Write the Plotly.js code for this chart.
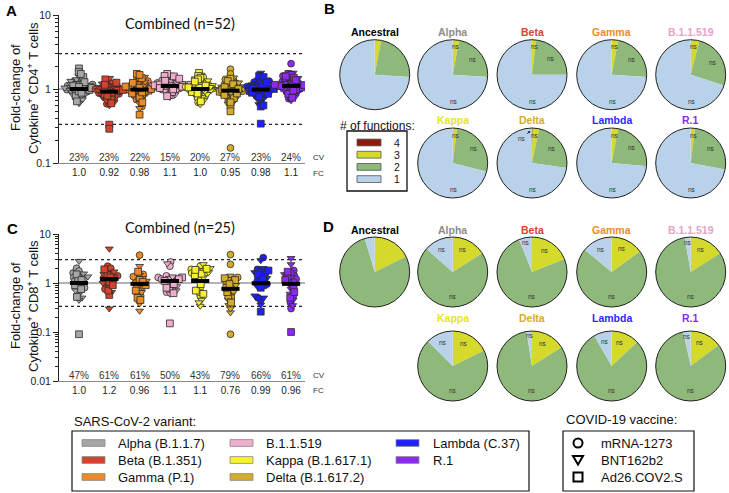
<!DOCTYPE html>
<html><head><meta charset="utf-8">
<script src="https://cdn.plot.ly/plotly-3.0.1.min.js"></script>
<style>html,body{margin:0;padding:0;background:#fff}#chart{width:729px;height:493px}</style>
</head><body><div id="chart"></div>
<script>
// ---------------- DATA ----------------
const variants = ['Alpha','Beta','Gamma','B.1.1.519','Kappa','Delta','Lambda','R.1'];
const variantLegend = ['Alpha (B.1.1.7)','Beta (B.1.351)','Gamma (P.1)','B.1.1.519','Kappa (B.1.617.1)','Delta (B.1.617.2)','Lambda (C.37)','R.1'];
const variantColors = ['#a6a6a6','#d6422b','#ec8a25','#efadcd','#f7f22e','#d6ab28','#1f1fff','#8d2af0'];
const vaccines = ['mRNA-1273','BNT162b2','Ad26.COV2.S'];
const vaccineCodes = ['M','B','A'];

// donor vaccine codes (same donors across variants)
const cd4Vaccine = 'MMMMMMMMMMMMMMMMMMMBBBBBBBBBBBBBBBBBBBBAAAAAAAAAAAAA'.split('');
const cd8Vaccine = 'MMMMMMMMMBBBBBBBBBAAAAAAA'.split('');

// CD4 fold-change per donor (n=52)
const cd4Alpha = [1.05,0.92,1.18,0.85,1.30,0.98,1.10,0.75,1.22,1.02,0.88,1.40,0.95,1.08,0.70,1.15,0.99,1.25,0.82,
  1.12,0.96,1.35,0.78,1.04,1.20,0.90,1.00,1.50,0.86,1.06,0.72,1.16,0.94,1.28,0.64,1.09,1.01,0.83,1.13,
  1.90,1.70,1.45,0.97,1.03,0.80,1.60,0.68,1.11,0.93,1.24,0.89,1.07];
const cd4Beta = [0.95,0.82,1.05,0.76,1.20,0.88,1.00,0.68,1.12,0.92,0.80,1.30,0.86,0.98,0.63,1.04,0.90,1.15,0.74,
  1.02,0.87,1.25,0.70,0.94,1.10,0.82,0.91,1.40,0.78,0.96,0.66,1.06,0.85,1.18,0.60,0.99,0.93,0.75,1.03,
  0.33,0.29,1.35,0.89,0.95,0.72,1.22,0.64,1.01,0.84,1.14,0.81,0.97];
const cd4Gamma = [1.02,0.90,1.15,0.82,1.28,0.95,1.08,0.72,1.20,0.99,0.86,1.38,0.93,1.05,0.58,1.12,0.97,1.22,0.79,
  1.10,0.94,1.32,0.55,1.01,1.18,0.88,0.98,1.45,0.84,1.03,0.70,1.14,0.91,1.25,0.64,1.06,0.99,0.81,1.09,
  1.60,0.45,1.40,0.95,1.00,0.77,1.55,0.66,1.08,0.90,1.21,0.87,1.04];
const cd4B11519 = [1.12,1.02,1.24,0.95,1.35,1.08,1.18,0.86,1.30,1.10,0.98,1.45,1.05,1.16,0.82,1.21,1.09,1.32,0.92,
  1.19,1.06,1.40,0.89,1.13,1.27,1.00,1.11,1.55,0.97,1.14,0.84,1.23,1.04,1.36,0.78,1.17,1.10,0.94,1.20,
  1.60,1.48,1.38,1.07,1.12,0.91,1.50,0.80,1.15,1.03,1.29,0.99,1.14];
const cd4Kappa = [1.05,0.92,1.20,0.84,1.32,0.97,1.10,0.74,1.24,1.01,0.88,1.45,0.94,1.07,0.66,1.15,0.99,1.28,0.80,
  1.12,0.95,1.38,0.77,1.03,1.22,0.90,1.00,1.55,0.85,1.06,0.70,1.17,0.93,1.30,0.62,1.09,1.02,0.82,1.13,
  1.65,1.50,1.42,0.96,1.04,0.79,1.35,0.68,1.11,0.91,1.26,0.87,1.05];
const cd4Delta = [1.85,0.88,1.12,0.80,1.25,0.93,1.05,0.70,1.18,0.96,0.84,1.35,0.90,1.02,0.16,1.60,0.94,1.20,0.77,
  1.08,0.91,1.30,0.72,0.99,1.15,0.86,0.95,1.42,0.81,1.01,0.67,1.10,0.89,1.22,0.63,1.04,0.97,0.78,1.07,
  0.60,0.50,1.38,0.92,0.98,0.75,1.28,0.66,1.06,0.87,1.16,0.83,1.00];
const cd4Lambda = [1.03,0.90,1.16,0.83,1.28,0.95,1.08,0.73,1.21,0.99,0.86,1.40,0.93,1.05,0.66,1.13,0.97,1.24,0.80,
  1.10,0.94,1.34,0.76,1.02,1.19,0.88,0.98,1.65,0.84,1.04,0.70,1.15,0.91,1.27,0.62,1.07,1.00,0.81,1.11,
  0.34,0.58,1.50,0.94,1.00,0.78,1.45,0.60,1.09,0.89,1.23,0.86,1.03];
const cd4R1 = [2.20,1.00,1.25,0.92,1.38,1.06,1.18,0.82,1.30,1.09,0.96,1.50,1.03,1.15,0.74,1.22,1.08,1.35,0.88,
  1.19,1.04,1.45,0.85,1.12,1.28,0.98,1.10,1.65,0.93,1.14,0.78,1.24,1.01,1.40,0.70,1.17,1.11,0.90,1.20,
  1.60,1.55,1.42,1.05,1.10,0.86,1.48,0.76,1.14,0.99,1.32,0.95,1.13];

// CD8 fold-change per donor (n=25)
const cd8Alpha = [1.60,1.30,0.80,2.00,1.10,0.65,1.45,0.95,1.75, 2.80,0.70,1.20,0.50,1.55,0.85,1.35,0.45,1.05, 0.09,0.52,1.25,0.90,1.50,0.75,1.15];
const cd8Beta = [1.80,1.40,0.95,2.20,1.25,0.75,1.60,1.10,2.00, 5.00,0.85,1.50,0.30,1.70,1.00,1.35,0.65,1.20, 0.57,0.70,1.45,1.05,1.90,0.90,1.30];
const cd8Gamma = [3.70,1.20,0.75,1.50,1.00,0.55,1.35,0.85,0.60, 2.20,0.65,1.10,0.27,1.45,0.80,0.95,0.38,1.25, 0.50,0.45,1.15,0.90,1.70,0.70,1.05];
const cd8B11519 = [2.70,2.20,0.80,1.30,1.10,0.65,1.20,0.90,1.40, 2.50,0.75,1.25,0.60,1.15,0.85,1.35,0.70,1.05, 0.15,0.62,1.30,0.95,1.10,0.80,1.20];
const cd8Kappa = [2.20,1.90,1.60,0.80,1.40,0.55,1.75,1.20,0.65, 2.40,1.50,2.00,0.34,1.80,0.45,1.30,0.40,1.65, 1.55,0.70,1.95,0.95,1.45,0.60,1.85];
const cd8Delta = [3.80,2.40,0.60,1.30,0.85,0.09,1.10,0.50,0.70, 1.40,0.45,0.90,0.25,1.20,0.35,0.75,0.30,1.00, 0.55,0.65,1.25,0.80,1.15,0.40,0.95];
const cd8Lambda = [3.30,1.90,0.45,1.60,0.95,1.30,0.50,1.75,1.10, 2.90,0.36,1.45,0.50,2.00,0.85,1.25,0.55,1.65, 0.26,0.90,1.50,1.05,1.80,0.80,1.20];
const cd8R1 = [1.80,1.40,0.30,1.20,0.40,0.95,1.60,0.55,1.05, 3.20,0.60,2.40,0.45,1.30,0.75,1.50,0.35,1.10, 0.10,0.50,1.35,0.85,1.70,0.65,1.15];

// summary rows
const cd4FC = [1.0,0.92,0.98,1.1,1.0,0.95,0.98,1.1];
const cd4FCLabels = ['1.0','0.92','0.98','1.1','1.0','0.95','0.98','1.1'];
const cd4CV = ['23%','23%','22%','15%','20%','27%','23%','24%'];
const cd8FC = [1.0,1.2,0.96,1.1,1.1,0.76,0.99,0.96];
const cd8FCLabels = ['1.0','1.2','0.96','1.1','1.1','0.76','0.99','0.96'];
const cd8CV = ['47%','61%','61%','50%','43%','79%','66%','61%'];
const thresholdHigh = 3, thresholdLow = 0.333, baseline = 1;

// log-axis ticks
const cd4TickVals = [0.1, 1, 10];
const cd4TickText = ['0.1', '1', '10'];
const cd4MinorVals = [0.2,0.3,0.4,0.5,0.6,0.7,0.8,0.9,2,3,4,5,6,7,8,9];
const cd8TickVals = [0.01, 0.1, 1, 10];
const cd8TickText = ['0.01', '0.1', '1', '10'];
const cd8MinorVals = [0.02,0.03,0.04,0.05,0.06,0.07,0.08,0.09,0.2,0.3,0.4,0.5,0.6,0.7,0.8,0.9,2,3,4,5,6,7,8,9];

// pies: % of cells with # of functions
const pieNames = ['Ancestral','Alpha','Beta','Gamma','B.1.1.519','Kappa','Delta','Lambda','R.1'];
const pieTitleColors = ['#000000','#8c8c8c','#d8432c','#ee8c28','#e6a3c8','#e4e42a','#d6ab28','#2a2aff','#8d2af0'];
const fnLabels = ['4','3','2','1'];
const fnColors = ['#8b1a10','#d4d92c','#8fb97a','#b9d2ea'];
const cd4Fn4 = [0,0,0,0,0,0,0.3,0,0];
const cd4Fn3 = [3,3,2,3,4,2,3,3,2];
const cd4Fn2 = [23,23,23,23,26,27,24,23.5,26];
const cd4Fn1 = [74,74,75,74,70,71,72.7,73.5,72];
const cd8Fn4 = [0,0,0,0,0,0,0,0,0];
const cd8Fn3 = [17.7,16,19,15,16,17.7,16,13,14.7];
const cd8Fn2 = [77.7,70.5,75,71,81.3,69.8,81.5,78.7,81.9];
const cd8Fn1 = [4.6,13.5,6,14,2.7,12.5,2.5,8.3,3.4];

// ---------------- LAYOUT HELPERS ----------------
const W = 729, H = 493;
const px = x => x / W, py = y => 1 - y / H;
const FONT = 'Liberation Sans, Arial, sans-serif';
const catPx = 30.3; // px per category

function swarm(vals, pxPerDecade, D) {
  const order = vals.map((v, i) => i).sort((a, b) => vals[a] - vals[b]);
  const placed = [], off = new Array(vals.length);
  order.forEach((i, k) => {
    const y = Math.log10(vals[i]) * pxPerDecade;
    const near = placed.filter(p => Math.abs(p.y - y) < D);
    const cands = [0];
    near.forEach(p => { const dx = Math.sqrt(D * D - (p.y - y) ** 2); cands.push(p.x + dx, p.x - dx); });
    cands.sort((a, b) => Math.abs(a) - Math.abs(b) || (k % 2 ? a - b : b - a));
    const x = cands.find(c => near.every(p => (p.x - c) ** 2 + (p.y - y) ** 2 >= D * D - 1e-6));
    placed.push({ x, y }); off[i] = x;
  });
  return off;
}

const traces = [];
const annotations = [];
const shapes = [];
function ann(o) {
  annotations.push(Object.assign({ xref: 'paper', yref: 'paper', xanchor: 'center', yanchor: 'middle', showarrow: false }, o));
}

function scatterPanel(sets, donorVac, fc, xa, ya, pxPerDecade, D) {
  const xr = [-0.66, 7.46];
  traces.push({ x: xr, y: [baseline, baseline], xaxis: xa, yaxis: ya, mode: 'lines', line: { color: '#9a9a9a', width: 1.6 }, hoverinfo: 'skip' });
  [thresholdHigh, thresholdLow].forEach(t => traces.push({ x: xr, y: [t, t], xaxis: xa, yaxis: ya, mode: 'lines', line: { color: '#222', width: 1.2, dash: 'dot' }, hoverinfo: 'skip' }));
  sets.forEach((vals, i) => {
    const off = swarm(vals, pxPerDecade, D);
    vaccineCodes.forEach((code, s) => {
      const xs = [], ys = [];
      vals.forEach((v, j) => { if (donorVac[j] === code) { xs.push(i + off[j] / catPx); ys.push(v); } });
      traces.push({ x: xs, y: ys, xaxis: xa, yaxis: ya, mode: 'markers', hoverinfo: 'y',
        marker: { symbol: ['circle', 'triangle-down', 'square'][s], size: 6.8, color: variantColors[i], line: { color: '#2a2a2a', width: 0.8 } } });
    });
  });
  fc.forEach((f, i) => traces.push({ x: [i - 0.3, i + 0.3], y: [f, f], xaxis: xa, yaxis: ya, mode: 'lines', line: { color: '#000', width: 4 }, hoverinfo: 'skip' }));
}

scatterPanel([cd4Alpha, cd4Beta, cd4Gamma, cd4B11519, cd4Kappa, cd4Delta, cd4Lambda, cd4R1], cd4Vaccine, cd4FC, 'x', 'y', 74, 2.9);
scatterPanel([cd8Alpha, cd8Beta, cd8Gamma, cd8B11519, cd8Kappa, cd8Delta, cd8Lambda, cd8R1], cd8Vaccine, cd8FC, 'x2', 'y2', 49, 3.7);

// CV rows + labels
cd4CV.forEach((t, i) => ann({ text: t, x: i, xref: 'x', y: py(157), font: { size: 10, color: '#333' } }));
cd8CV.forEach((t, i) => ann({ text: t, x: i, xref: 'x2', y: py(375), font: { size: 10, color: '#333' } }));
[[157, 'CV'], [173, 'FC'], [375, 'CV'], [390, 'FC']].forEach(([y, t]) => ann({ text: t, x: px(311), y: py(y), xanchor: 'left', font: { size: 8, color: '#333' } }));

// panel titles and letters
ann({ text: 'Combined (n=52)', x: px(180), y: py(23), font: { family: 'Lato, sans-serif', size: 14.5, color: '#111' } });
ann({ text: 'Combined (n=25)', x: px(180), y: py(227), font: { family: 'Lato, sans-serif', size: 14.5, color: '#111' } });
[['A', 11, 10], ['B', 329, 8], ['C', 12, 228], ['D', 328, 226]].forEach(([t, x, y]) => ann({ text: '<b>' + t + '</b>', x: px(x), y: py(y), font: { size: 15, color: '#000' } }));
// y titles
[[88, 'CD4'], [306, 'CD8']].forEach(([y, c]) => {
  ann({ text: 'Fold-change of', x: px(15), y: py(y), textangle: -90, font: { size: 13, color: '#111' } });
  ann({ text: 'Cytokine<sup>+</sup> ' + c + '<sup>+</sup> T cells', x: px(33), y: py(y), textangle: -90, font: { size: 13, color: '#111' } });
});

// ---------------- PIES ----------------
const pieColX = [374.7, 452.7, 532, 611.7, 690.7];
const R = 35;
function piePanel(f4, f3, f2, f1, rowY, titleY, style) {
  pieNames.forEach((name, k) => {
    const row = k < 5 ? 0 : 1, col = k < 5 ? k : k - 4;
    const cx = pieColX[col], cy = rowY[row];
    traces.push({ type: 'pie', values: [f4[k], f3[k], f2[k], f1[k]], labels: fnLabels, sort: false, direction: 'clockwise', rotation: 0,
      marker: { colors: fnColors, line: { width: 0 } }, textinfo: 'none', hoverinfo: 'label+percent', showlegend: false,
      domain: { x: [px(cx - R), px(cx + R)], y: [py(cy + R), py(cy - R)] } });
    shapes.push({ type: 'circle', xref: 'paper', yref: 'paper', x0: px(cx - R), x1: px(cx + R), y0: py(cy + R), y1: py(cy - R), line: { color: '#222', width: 1 } });
    ann({ text: '<b>' + name + '</b>', x: px(cx), y: py(titleY[row]), font: { size: 10.5, color: pieTitleColors[k] } });
    if (k === 0) return;
    const ns = (angDeg, fr) => { const a = angDeg * Math.PI / 180; ann({ text: 'ns', x: px(cx + R * fr * Math.sin(a)), y: py(cy - R * fr * Math.cos(a)), font: { size: 6.5, color: '#333' } }); };
    if (style === 'B') {
      ns(Math.max(f3[k] * 1.8, 7), 0.8);
      ns((f3[k] + f2[k] / 2) * 3.6, 0.72);
      ns(178, 0.76);
    } else {
      ns(f3[k] * 1.8 - 4, 0.72);
      ns(360 - f1[k] * 1.8, f1[k] < 7 ? 0.86 : 0.72);
      ns(180, 0.7);
    }
  });
}
piePanel(cd4Fn4, cd4Fn3, cd4Fn2, cd4Fn1, [74.7, 163], [32, 120], 'B');
piePanel(cd8Fn4, cd8Fn3, cd8Fn2, cd8Fn1, [272, 366], [230, 318], 'D');
// Delta (B) tiny 4-function slice callout
annotations.push({ text: 'ns', x: px(530.5), y: py(131), xref: 'paper', yref: 'paper', ax: -9, ay: 7, showarrow: true, arrowhead: 2, arrowsize: 0.6, arrowwidth: 0.8, arrowcolor: '#111', font: { size: 6.5, color: '#333' } });

// # of functions legend
ann({ text: '# of functions:', x: px(377), y: py(126), font: { size: 12, color: '#111' } });
shapes.push({ type: 'rect', xref: 'paper', yref: 'paper', x0: px(347), x1: px(407), y0: py(191), y1: py(131), line: { color: '#111', width: 1.3 } });
fnLabels.forEach((l, i) => {
  const y = 142.5 + i * 12.2;
  shapes.push({ type: 'rect', xref: 'paper', yref: 'paper', x0: px(357), x1: px(381), y0: py(y + 3.4), y1: py(y - 3.4), fillcolor: fnColors[i], line: { color: '#555', width: 0.8 } });
  ann({ text: l, x: px(397), y: py(y), font: { size: 10.5, color: '#111' }, borderpad: 0 });
});

// ---------------- BOTTOM LEGENDS ----------------
const rowsY = [443, 460, 477];
ann({ text: 'SARS-CoV-2 variant:', x: px(72), y: py(421), xanchor: 'left', font: { size: 13, color: '#111' } });
shapes.push({ type: 'rect', xref: 'paper', yref: 'paper', x0: px(72), x1: px(529), y0: py(491), y1: py(431), line: { color: '#111', width: 1.2 } });
const colSw = [82, 230, 396], colTx = [116, 264, 431];
variantLegend.forEach((t, i) => {
  const c = Math.floor(i / 3), r = i % 3, y = rowsY[r];
  shapes.push({ type: 'rect', xref: 'paper', yref: 'paper', x0: px(colSw[c]), x1: px(colSw[c] + 23), y0: py(y + 3.4), y1: py(y - 3.4), fillcolor: variantColors[i], line: { color: '#888', width: 0.8 } });
  ann({ text: t, x: px(colTx[c]), y: py(y), xanchor: 'left', font: { size: 13, color: '#111' } });
});
ann({ text: 'COVID-19 vaccine:', x: px(564), y: py(419), xanchor: 'left', font: { size: 13, color: '#111' } });
shapes.push({ type: 'rect', xref: 'paper', yref: 'paper', x0: px(563), x1: px(694), y0: py(491), y1: py(431), line: { color: '#111', width: 1.2 } });
vaccines.forEach((t, i) => {
  const y = rowsY[i], cx = 578;
  if (i === 0) shapes.push({ type: 'circle', xref: 'paper', yref: 'paper', x0: px(cx - 4.5), x1: px(cx + 4.5), y0: py(y + 4.5), y1: py(y - 4.5), line: { color: '#000', width: 2 } });
  if (i === 1) shapes.push({ type: 'path', xref: 'paper', yref: 'paper', path: `M ${px(cx - 5)} ${py(y - 4)} L ${px(cx + 5)} ${py(y - 4)} L ${px(cx)} ${py(y + 4.5)} Z`, line: { color: '#000', width: 2 } });
  if (i === 2) shapes.push({ type: 'rect', xref: 'paper', yref: 'paper', x0: px(cx - 4.5), x1: px(cx + 4.5), y0: py(y + 4.5), y1: py(y - 4.5), line: { color: '#000', width: 2 } });
  ann({ text: t, x: px(599), y: py(y), xanchor: 'left', font: { size: 13, color: '#111' } });
});

// ---------------- AXES ----------------
const xBase = { range: [-0.66, 7.46], showline: true, linecolor: '#8a8a8a', linewidth: 1, ticks: '', tickmode: 'array', tickvals: [0,1,2,3,4,5,6,7],
  tickfont: { size: 10, color: '#222' }, showgrid: false, zeroline: false, automargin: false, fixedrange: true };
const yBase = { type: 'log', showline: true, linecolor: '#222', linewidth: 1, ticks: 'outside', ticklen: 5, tickcolor: '#222', tickmode: 'array',
  tickfont: { size: 10.5, color: '#222' }, showgrid: false, zeroline: false, automargin: false, fixedrange: true };
const layout = {
  width: W, height: H, margin: { l: 0, r: 0, t: 0, b: 0 }, paper_bgcolor: '#fff', plot_bgcolor: 'rgba(0,0,0,0)',
  font: { family: FONT, color: '#111' }, showlegend: false,
  xaxis: Object.assign({}, xBase, { domain: [px(59), px(305)], anchor: 'y', ticktext: cd4FCLabels }),
  yaxis: Object.assign({}, yBase, { domain: [py(163), py(15)], anchor: 'x', range: [-1, 1], tickvals: cd4TickVals, ticktext: cd4TickText,
    minor: { tickmode: 'array', tickvals: cd4MinorVals, ticks: 'outside', ticklen: 3, tickcolor: '#222', showgrid: false } }),
  xaxis2: Object.assign({}, xBase, { domain: [px(59), px(305)], anchor: 'y2', ticktext: cd8FCLabels }),
  yaxis2: Object.assign({}, yBase, { domain: [py(381), py(234)], anchor: 'x2', range: [-2, 1], tickvals: cd8TickVals, ticktext: cd8TickText,
    minor: { tickmode: 'array', tickvals: cd8MinorVals, ticks: 'outside', ticklen: 3, tickcolor: '#222', showgrid: false } }),
  annotations, shapes
};
Plotly.newPlot('chart', traces, layout, { displayModeBar: false, staticPlot: true });
</script></body></html>
